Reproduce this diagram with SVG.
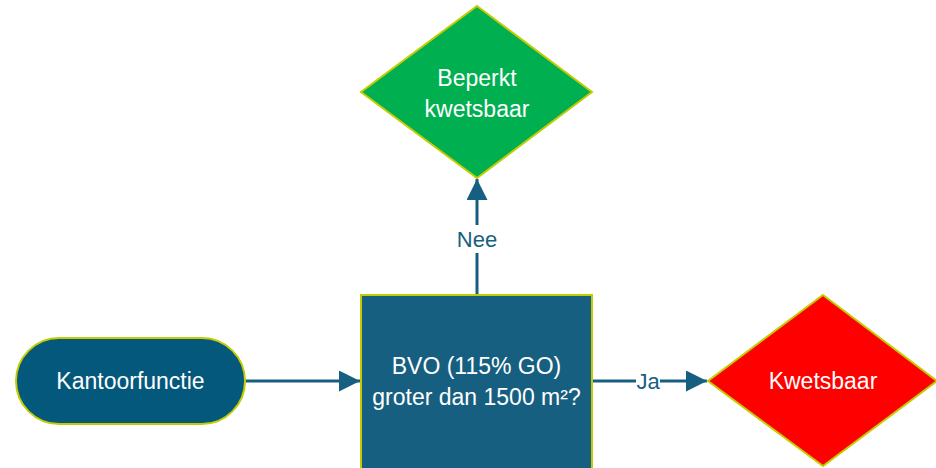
<svg xmlns="http://www.w3.org/2000/svg" width="936" height="468" viewBox="0 0 936 468">
<style>
.lbl{font-family:"Liberation Sans","Open Sans",sans-serif;font-size:23px;fill:#ffffff;text-anchor:middle;dominant-baseline:central}
.elbl{font-family:"Liberation Sans","Open Sans",sans-serif;font-size:22px;fill:#175f80;text-anchor:middle;dominant-baseline:central}
.edge{stroke:#175f80;stroke-width:3;fill:none}
.node{stroke:#c3cc00;stroke-width:2}
</style>
<defs>
<marker id="ah" viewBox="0 0 10 10" refX="10" refY="5" markerWidth="7" markerHeight="7" orient="auto" markerUnits="strokeWidth">
<path d="M0,0 L10,5 L0,10 Z" fill="#175f80"/>
</marker>
</defs>
<rect width="936" height="468" fill="#ffffff"/>
<g id="connectors">
<line class="edge" x1="245" y1="381" x2="360" y2="381" marker-end="url(#ah)"/>
<line class="edge" x1="477" y1="295" x2="477" y2="179" marker-end="url(#ah)"/>
<line class="edge" x1="592" y1="381" x2="707" y2="381" marker-end="url(#ah)"/>
<rect x="454" y="225" width="46" height="28" fill="#ffffff"/>
<text class="elbl" x="477" y="239">Nee</text>
<rect x="636" y="368" width="24" height="26" fill="#ffffff"/>
<text class="elbl" x="648" y="381">Ja</text>
</g>
<g id="kantoorfunctie">
<rect class="node" x="16" y="338" width="229" height="86" rx="43" ry="43" fill="#03587c"/>
<text class="lbl" x="130.5" y="381">Kantoorfunctie</text>
</g>
<g id="bvo">
<rect class="node" x="361" y="295" width="231" height="180" fill="#175f80" stroke-width="1.5"/>
<text class="lbl" x="476.5" y="366">BVO (115% GO)</text>
<text class="lbl" x="476.5" y="397">groter dan 1500 m²?</text>
</g>
<g id="beperkt">
<polygon class="node" points="477,6 592,92 477,178 361,92" fill="#00b050"/>
<text class="lbl" x="477" y="78">Beperkt</text>
<text class="lbl" x="477" y="109">kwetsbaar</text>
</g>
<g id="kwetsbaar">
<polygon class="node" points="823,295 937,381 823,466 708,381" fill="#ff0000"/>
<text class="lbl" x="823" y="381">Kwetsbaar</text>
</g>
</svg>
